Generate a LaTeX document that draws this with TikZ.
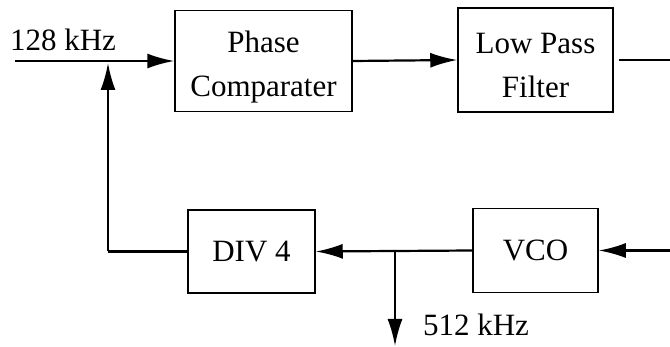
\documentclass[tikz,border=0pt]{standalone}
\usepackage{fontspec}
\setmainfont{Liberation Serif}
\usetikzlibrary{arrows.meta}
\begin{document}
\begin{tikzpicture}[x=1pt,y=-1pt,
  blockbox/.style={draw, line width=1.5pt, inner sep=0pt, align=center, font=\fontsize{31}{44}\selectfont},
  btext/.style={inner sep=0pt, align=center, font=\fontsize{31}{44}\selectfont},
  conn/.style={line width=2.2pt},
  arr/.style={conn, -{Latex[length=27pt,width=15pt]}},
  lbl/.style={font=\fontsize{31}{34}\selectfont, inner sep=0pt}]
\useasboundingbox (0,0) rectangle (670,347);
\node[blockbox, minimum width=177pt, minimum height=101pt] (pc) at (263.5,61) {};
\node[btext] (pct) at (263.5,67) {Phase\\Comparater};
\node[blockbox, minimum width=155pt, minimum height=104pt] (lpf) at (535.5,60) {};
\node[btext] (lpft) at (535.5,66) {Low Pass\\Filter};
\node[blockbox, minimum width=127pt, minimum height=83pt] (div) at (251.5,251.5) {DIV 4};
\node[blockbox, minimum width=125pt, minimum height=84pt] (vco) at (535.5,250.5) {VCO};
\coordinate (in) at (15,61);
\coordinate (lpfout) at (670,60);
\coordinate (vcoin) at (670,250.5);
\coordinate (j) at (395,251);
\coordinate (out) at (395,346);
\coordinate (fbc) at (108,251.5);
\coordinate (fbt) at (108,63);
\draw[arr] (in) -- (pc.west);
\draw[arr] (pc.east) -- (lpf.west);
\draw[conn] ([xshift=5pt]lpf.east) -- (lpfout);
\draw[arr] (vcoin) -- (vco.east);
\draw[conn] (vco.west) -- (j);
\draw[arr] (j) -- (div.east);
\draw[arr] (j) -- (out);
\draw[conn] (div.west) -- (fbc);
\draw[arr] (fbc) -- (fbt);
\node[lbl] (l128) at (63,40) {128 kHz};
\node[lbl] (l512) at (476,325) {512 kHz};
\end{tikzpicture}
\end{document}
